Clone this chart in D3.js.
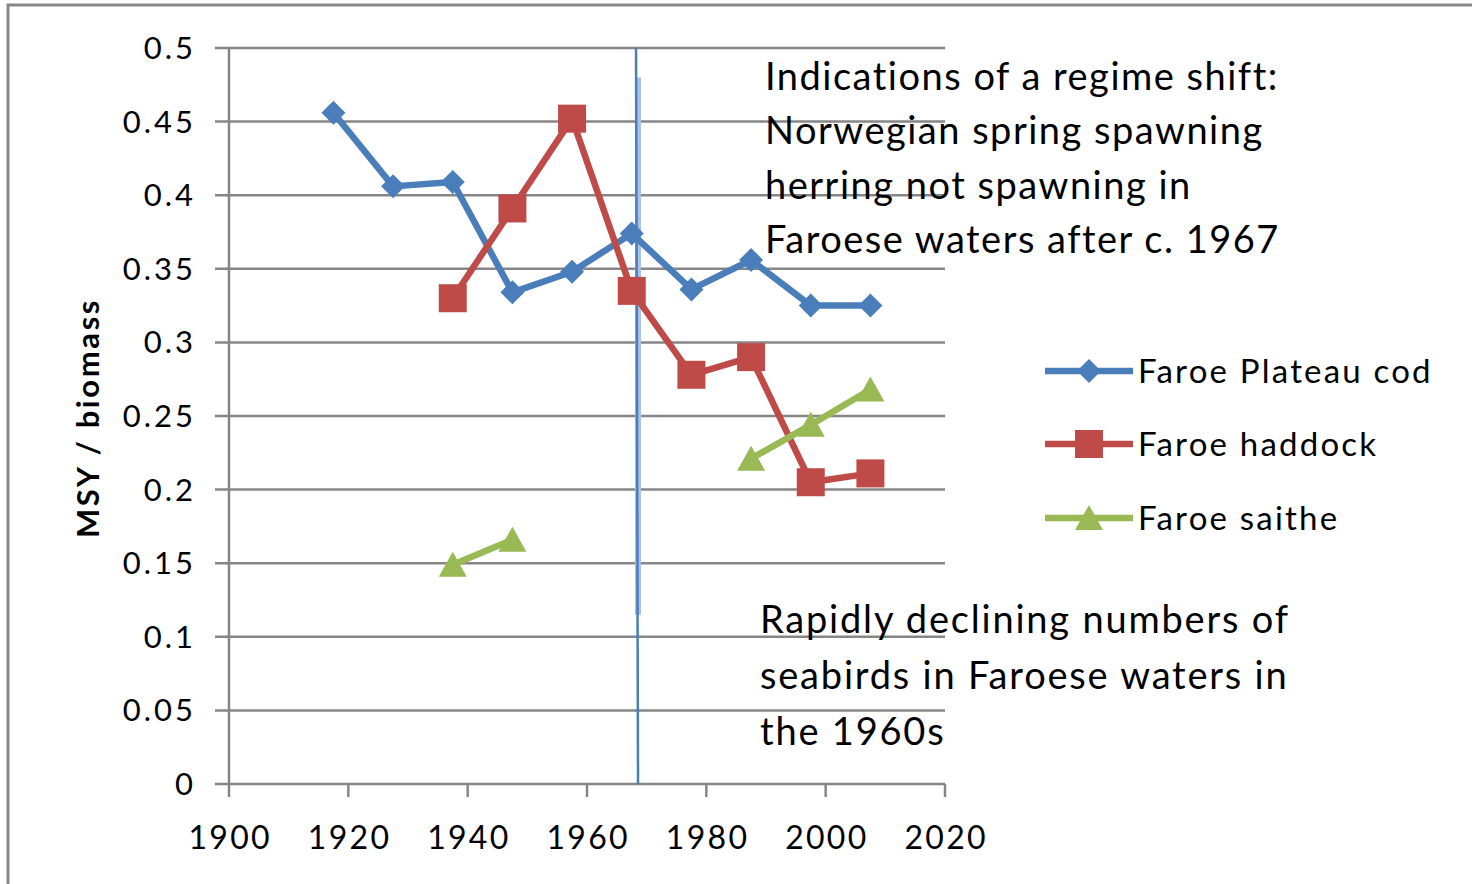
<!DOCTYPE html>
<html><head><meta charset="utf-8">
<script src="https://cdn.jsdelivr.net/npm/d3@7"></script>
<style>html,body{margin:0;padding:0;background:#fff;}svg{display:block;}</style>
</head><body>
<svg id="c" width="1472" height="884"></svg>
<script>
const years = [1917.5, 1927.5, 1937.5, 1947.5, 1957.5, 1967.5, 1977.5, 1987.5, 1997.5, 2007.5];
const cod = [0.456, 0.406, 0.409, 0.334, 0.348, 0.374, 0.336, 0.356, 0.325, 0.325];
const haddock = [null, null, 0.330, 0.391, 0.452, 0.335, 0.278, 0.290, 0.205, 0.211];
const saithe = [null, null, 0.149, 0.166, null, null, null, 0.221, 0.244, 0.268];
const seriesNames = ["Faroe Plateau cod", "Faroe haddock", "Faroe saithe"];
const yTicks = [0, 0.05, 0.1, 0.15, 0.2, 0.25, 0.3, 0.35, 0.4, 0.45, 0.5];
const xTicks = [1900, 1920, 1940, 1960, 1980, 2000, 2020];
const shiftYear = 1968.3;
const note1 = ["Indications of a regime shift:", "Norwegian spring spawning", "herring not spawning in", "Faroese waters after c. 1967"];
const note2 = ["Rapidly declining numbers of", "seabirds in Faroese waters in", "the 1960s"];

const colors = ["#4a7ebb", "#be4b48", "#98b954"];
const svg = d3.select("#c");
const font = "Lato, 'Open Sans', sans-serif";
const x = d3.scaleLinear().domain([1900, 2020]).range([229, 945]);
const y = d3.scaleLinear().domain([0, 0.5]).range([784, 48]);

// frame
svg.append("rect").attr("x", 8).attr("y", 5).attr("width", 1480).attr("height", 900)
  .attr("fill", "none").attr("stroke", "#888").attr("stroke-width", 3);

// gridlines
svg.append("g").selectAll("line").data(yTicks).join("line")
  .attr("x1", 215).attr("x2", 945).attr("y1", d => y(d)).attr("y2", d => y(d))
  .attr("stroke", "#868686").attr("stroke-width", 2.5);
// y axis
svg.append("line").attr("x1", 229).attr("x2", 229).attr("y1", y(0.5)).attr("y2", y(0))
  .attr("stroke", "#868686").attr("stroke-width", 2.5);
// x ticks
svg.append("g").selectAll("line").data(xTicks).join("line")
  .attr("x1", d => x(d)).attr("x2", d => x(d)).attr("y1", y(0)).attr("y2", y(0) + 13)
  .attr("stroke", "#868686").attr("stroke-width", 2.5);

// tick labels
svg.append("g").selectAll("text").data(yTicks).join("text")
  .attr("x", 196).attr("y", d => y(d) + 11).attr("text-anchor", "end")
  .attr("font-family", font).attr("font-size", 31).attr("letter-spacing", 3).attr("fill", "#000")
  .text(d => d === 0 ? "0" : String(+d.toFixed(2)));
svg.append("g").selectAll("text").data(xTicks).join("text")
  .attr("x", d => x(d) + 1.2).attr("y", 849).attr("text-anchor", "middle")
  .attr("font-family", font).attr("font-size", 32).attr("letter-spacing", 2.3).attr("fill", "#000")
  .text(d => d);

// axis title
svg.append("text").attr("transform", "translate(99,418) rotate(-90)")
  .attr("text-anchor", "middle").attr("font-family", font).attr("font-weight", "bold")
  .attr("font-size", 31).attr("letter-spacing", 2.6).attr("fill", "#000").text("MSY / biomass");

// vertical shift line
svg.append("line").attr("x1", x(shiftYear) + 1.5).attr("x2", x(shiftYear) + 1.5)
  .attr("y1", y(0.48)).attr("y2", y(0.115)).attr("stroke", "#a9c1e2").attr("stroke-width", 6);
svg.append("line").attr("x1", x(shiftYear) - 0.5).attr("x2", x(shiftYear) + 1.5)
  .attr("y1", y(0.5)).attr("y2", y(0)).attr("stroke", "#4a7ebb").attr("stroke-width", 2.5);

// series
const data = [cod, haddock, saithe];
const line = d3.line().defined(d => d.v !== null).x(d => x(d.t)).y(d => y(d.v));
function marker(g, i, cx, cy) {
  if (i === 0) {
    g.append("path").attr("d", `M${cx},${cy-12}L${cx+12},${cy}L${cx},${cy+12}L${cx-12},${cy}Z`).attr("fill", colors[0]);
  } else if (i === 1) {
    g.append("rect").attr("x", cx - 14).attr("y", cy - 14).attr("width", 28).attr("height", 28).attr("fill", colors[1]);
  } else {
    g.append("path").attr("d", `M${cx},${cy-13}L${cx+14},${cy+12}L${cx-14},${cy+12}Z`).attr("fill", colors[2]);
  }
}
data.forEach((vals, i) => {
  const pts = years.map((t, k) => ({t, v: vals[k]}));
  const g = svg.append("g");
  g.append("path").attr("d", line(pts)).attr("fill", "none").attr("stroke", colors[i])
    .attr("stroke-width", 6.5).attr("stroke-linejoin", "round");
  pts.filter(p => p.v !== null).forEach(p => marker(g, i, x(p.t), y(p.v)));
});

// legend
const legY = [371, 444, 518];
seriesNames.forEach((n, i) => {
  const g = svg.append("g");
  g.append("line").attr("x1", 1045).attr("x2", 1133).attr("y1", legY[i]).attr("y2", legY[i])
    .attr("stroke", colors[i]).attr("stroke-width", 6.5);
  marker(g, i, 1089, legY[i]);
  g.append("text").attr("x", 1138).attr("y", legY[i] + 12).attr("font-family", font)
    .attr("font-size", 33).attr("letter-spacing", 2.2).attr("fill", "#000").text(n);
});

// annotations
note1.forEach((t, k) => svg.append("text").attr("x", 765).attr("y", 90 + k * 54.3)
  .attr("font-family", font).attr("font-size", 38).attr("letter-spacing", 1.5).attr("fill", "#000").text(t));
note2.forEach((t, k) => svg.append("text").attr("x", 760).attr("y", 633 + k * 56)
  .attr("font-family", font).attr("font-size", 38).attr("letter-spacing", 1.8).attr("fill", "#000").text(t));
</script>
</body></html>
